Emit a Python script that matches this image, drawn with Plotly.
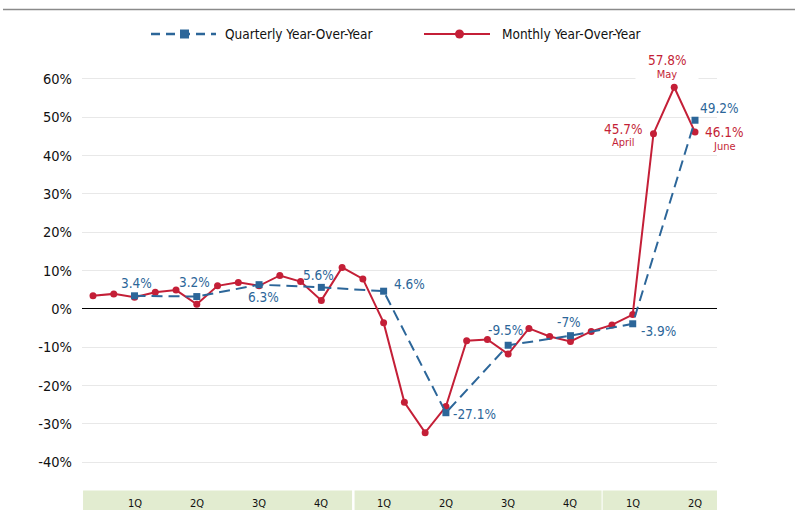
import plotly.graph_objects as go

# ---------------- data ----------------
months = [
    "Jan 2019", "Feb 2019", "Mar 2019", "Apr 2019", "May 2019", "Jun 2019",
    "Jul 2019", "Aug 2019", "Sep 2019", "Oct 2019", "Nov 2019", "Dec 2019",
    "Jan 2020", "Feb 2020", "Mar 2020", "Apr 2020", "May 2020", "Jun 2020",
    "Jul 2020", "Aug 2020", "Sep 2020", "Oct 2020", "Nov 2020", "Dec 2020",
    "Jan 2021", "Feb 2021", "Mar 2021", "Apr 2021", "May 2021", "Jun 2021",
]
monthly_yoy = [
    3.4, 3.9, 3.0, 4.3, 4.9, 1.2, 6.0, 6.9, 6.0, 8.7, 7.1, 2.2,
    10.8, 7.8, -3.6, -24.4, -32.3, -25.5, -8.3, -8.0, -11.8, -5.1, -7.2, -8.5,
    -5.9, -4.2, -1.5, 45.7, 57.8, 46.1,
]
quarter_end_months = [
    "Mar 2019", "Jun 2019", "Sep 2019", "Dec 2019",
    "Mar 2020", "Jun 2020", "Sep 2020", "Dec 2020",
    "Mar 2021", "Jun 2021",
]
quarterly_yoy = [3.4, 3.2, 6.3, 5.6, 4.6, -27.1, -9.5, -7.0, -3.9, 49.2]
quarter_labels = ["1Q", "2Q", "3Q", "4Q", "1Q", "2Q", "3Q", "4Q", "1Q", "2Q"]

y_tick_vals = [60, 50, 40, 30, 20, 10, 0, -10, -20, -30, -40]
y_tick_text = ["60%", "50%", "40%", "30%", "20%", "10%", "0%", "-10%", "-20%", "-30%", "-40%"]

highlight_months = ["Apr 2021", "May 2021", "Jun 2021"]
highlight_names = ["April", "May", "June"]

series_names = ["Quarterly Year-Over-Year", "Monthly Year-Over-Year"]

# ---------------- styling ----------------
RED = "#c41f37"
BLUE = "#2c6699"
FONT = "DejaVu Sans Condensed, Liberation Sans Narrow, Roboto, sans-serif"

W, H = 797, 510
L, R, T, B = 82, 80, 75, 44
PW, PH = W - L - R, H - T - B
X_RANGE = [-0.53, 30.06]
Y_RANGE = [-41, 61]


def pxx(px):
    return (px - L) / PW


def pxy(py):
    return (H - B - py) / PH


def idx_to_paper(i):
    return (i - X_RANGE[0]) / (X_RANGE[1] - X_RANGE[0])


fig = go.Figure()

fig.add_trace(go.Scatter(
    x=months, y=monthly_yoy, mode="lines+markers", name=series_names[1],
    line=dict(color=RED, width=2),
    marker=dict(symbol="circle", size=7, color=RED),
    showlegend=False,
))
fig.add_trace(go.Scatter(
    x=quarter_end_months, y=quarterly_yoy, mode="lines+markers", name=series_names[0],
    line=dict(color=BLUE, width=2, dash="11px,6px"),
    marker=dict(symbol="square", size=7, color=BLUE),
    showlegend=False,
))

annotations = []

# quarterly value labels: (xanchor, xshift, yshift)
q_label_pos = [
    ("center", 2, 13), ("center", -2, 15), ("center", 4, -12), ("center", -3, 12),
    ("left", 8, 7), ("left", 5, -1), ("center", -3, 15), ("center", -1, 14),
    ("left", 6, -7), ("left", 3, 12),
]
for xm, v, (xa, xs, ys) in zip(quarter_end_months, quarterly_yoy, q_label_pos):
    annotations.append(dict(
        x=xm, y=v, xref="x", yref="y", text=f"{v:g}%", showarrow=False,
        xanchor=xa, yanchor="middle", xshift=xs, yshift=ys,
        font=dict(family=FONT, size=13.5, color=BLUE),
    ))

# highlighted monthly labels
h_pos = [(-30, 5, -9, False), (-7, 27, 13, True), (29, 0, -14, False)]
for m, name, (xs, ys_val, ys_name, bg) in zip(highlight_months, highlight_names, h_pos):
    v = monthly_yoy[months.index(m)]
    annotations.append(dict(
        x=m, y=v, xref="x", yref="y", text=f"{v:g}%", showarrow=False,
        xanchor="center", yanchor="middle", xshift=xs, yshift=ys_val,
        font=dict(family=FONT, size=13.5, color=RED),
        bgcolor="white" if bg else None,
    ))
    annotations.append(dict(
        x=m, y=v, xref="x", yref="y", text=name, showarrow=False,
        xanchor="center", yanchor="middle", xshift=xs, yshift=ys_name,
        font=dict(family=FONT, size=11, color=RED),
        bgcolor="white" if bg else None, width=60 if bg else None,
    ))

# quarter labels in the bottom band
for xm, lab in zip(quarter_end_months, quarter_labels):
    annotations.append(dict(
        x=xm, y=pxy(503), xref="x", yref="paper", text=lab, showarrow=False,
        xanchor="center", yanchor="middle",
        font=dict(family=FONT, size=11, color="#111111"),
    ))

# legend text
annotations.append(dict(
    x=pxx(223), y=pxy(34), xref="paper", yref="paper", text=series_names[0],
    showarrow=False, xanchor="left", yanchor="middle",
    font=dict(family=FONT, size=13.5, color="#111111"),
))
annotations.append(dict(
    x=pxx(500), y=pxy(34), xref="paper", yref="paper", text=series_names[1],
    showarrow=False, xanchor="left", yanchor="middle",
    font=dict(family=FONT, size=13.5, color="#111111"),
))

shapes = []
# bottom green year bands
band_edges = [(-0.48, 12.48), (12.6, 24.5), (24.55, 30.06)]
for a, b in band_edges:
    shapes.append(dict(
        type="rect", xref="paper", yref="paper",
        x0=idx_to_paper(a), x1=idx_to_paper(b), y0=pxy(490.5), y1=pxy(530),
        fillcolor="#e2ecd0", line=dict(width=0), layer="below",
    ))
# top rule
shapes.append(dict(
    type="line", xref="paper", yref="paper", x0=pxx(3), x1=pxx(795),
    y0=pxy(9.5), y1=pxy(9.5), line=dict(color="#8a8a8a", width=1.5),
))
# legend symbols
shapes.append(dict(
    type="line", xref="paper", yref="paper", x0=pxx(151), x1=pxx(216),
    y0=pxy(34), y1=pxy(34), line=dict(color=BLUE, width=2.5, dash="9px,6px"),
))
shapes.append(dict(
    type="rect", xref="paper", yref="paper", x0=pxx(180), x1=pxx(189),
    y0=pxy(38.5), y1=pxy(29.5), fillcolor=BLUE, line=dict(width=0),
))
shapes.append(dict(
    type="line", xref="paper", yref="paper", x0=pxx(424), x1=pxx(490),
    y0=pxy(34), y1=pxy(34), line=dict(color=RED, width=2),
))
shapes.append(dict(
    type="circle", xref="paper", yref="paper", x0=pxx(455), x1=pxx(464),
    y0=pxy(38.5), y1=pxy(29.5), fillcolor=RED, line=dict(width=0),
))

fig.update_layout(
    width=W, height=H,
    margin=dict(l=L, r=R, t=T, b=B),
    paper_bgcolor="white", plot_bgcolor="white",
    showlegend=False,
    font=dict(family=FONT, size=14, color="#111111"),
    annotations=annotations,
    shapes=shapes,
    xaxis=dict(
        type="category", categoryorder="array", categoryarray=months,
        range=X_RANGE, showgrid=False, showticklabels=False, ticks="",
        zeroline=False, showline=False, fixedrange=True,
    ),
    yaxis=dict(
        range=Y_RANGE, tickvals=y_tick_vals, ticktext=y_tick_text,
        showgrid=True, gridcolor="#e8e8e8", gridwidth=1,
        zeroline=True, zerolinecolor="#000000", zerolinewidth=1.3,
        ticks="", ticklabelstandoff=9, showline=False,
        tickfont=dict(family=FONT, size=14.5, color="#111111"),
        fixedrange=True,
    ),
)

fig.write_html(
    "out.html",
    config={"displayModeBar": False},
    post_script="document.body.style.margin='0px';document.body.style.padding='0px';",
)
